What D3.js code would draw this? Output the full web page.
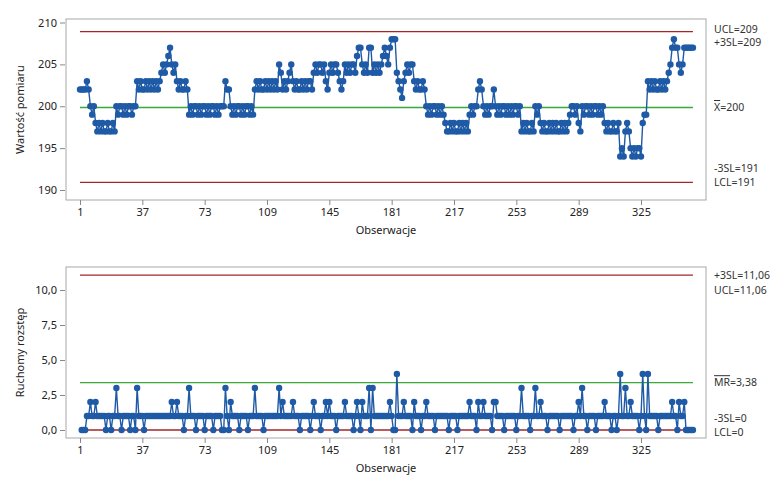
<!DOCTYPE html>
<html>
<head>
<meta charset="utf-8">
<script src="https://cdn.jsdelivr.net/npm/d3@7"></script>
<style>
  body { margin: 0; background: #fff; }
  text { font-family: "Noto Sans", "DejaVu Sans", sans-serif; }
</style>
</head>
<body>
<div id="chart"></div>
<script>
// Individual measurements (obs 1..355)
var values = [
  202,202,202,202,203,202,200,199,200,198,
  197,198,197,198,197,197,198,197,197,198,
  197,200,199,200,200,199,200,199,200,200,
  199,200,200,203,202,203,202,202,203,202,
  203,202,203,202,203,202,203,204,205,204,
  205,206,207,205,204,205,203,202,203,202,
  202,203,202,199,200,199,200,200,199,200,
  199,200,200,199,200,199,200,200,199,200,
  199,200,200,200,203,202,202,200,199,200,
  199,200,200,199,200,199,200,200,199,200,
  199,202,203,202,203,202,202,203,202,203,
  202,203,202,203,202,205,204,202,203,202,
  203,204,205,203,202,203,202,202,203,202,
  203,202,203,203,202,204,205,204,205,205,
  204,205,203,202,204,205,204,205,205,204,
  203,202,203,205,204,205,204,205,205,204,
  206,207,207,205,204,205,204,207,207,204,
  205,204,205,204,205,206,207,206,205,207,
  208,208,208,204,203,202,201,203,204,205,
  204,205,205,203,202,203,202,202,203,202,
  200,199,200,199,200,200,199,200,199,200,
  199,198,197,197,198,197,198,197,197,198,
  197,198,197,198,197,199,200,199,200,200,
  202,203,202,200,199,200,199,200,200,202,
  200,199,200,199,200,200,199,200,199,200,
  199,200,200,199,200,197,198,197,198,197,
  197,198,197,200,199,200,198,197,198,197,
  197,198,197,198,197,198,197,197,198,197,
  198,197,198,199,200,200,199,200,198,197,
  200,199,200,200,199,200,199,200,200,199,
  200,199,200,198,197,198,197,197,198,197,
  197,198,194,195,194,197,198,197,195,194,
  195,194,195,195,194,198,199,199,203,202,
  203,202,203,202,202,203,202,203,202,203,
  204,205,207,208,207,207,205,204,205,207,
  207,207,207,207,207
];

var xTicks = [1, 37, 73, 109, 145, 181, 217, 253, 289, 325];
var iTicks = [190, 195, 200, 205, 210];
var mrTicks = [0, 2.5, 5, 7.5, 10];

// control limits
var iLimits = { ucl: 208.9, center: 199.85, lcl: 190.9 };
var mrLimits = { ucl: 11.06, center: 3.38, lcl: 0 };

// moving range of consecutive observations
var mr = values.map(function(v, i) {
  return i === 0 ? null : Math.abs(v - values[i - 1]);
});

var svgWidth = 784;
var svgHeight = 480;
var frameLeft = 66;
var frameRight = 706;

var blue = "#1f5aa6";
var red = "#a3262a";
var green = "#3aa83a";

var svg = d3.select("#chart")
  .append("svg")
  .attr("width", svgWidth)
  .attr("height", svgHeight);

var xScale = d3.scaleLinear()
  .domain([1, 325])
  .range([80, 641]);

function drawPanel(opts) {
  var g = svg.append("g");
  var y = opts.y;

  // limit lines from first to last observation
  var x0 = xScale(1), x1 = xScale(values.length);
  [[opts.limits.ucl, red], [opts.limits.center, green], [opts.limits.lcl, red]].forEach(function(l) {
    g.append("line")
      .attr("x1", x0).attr("x2", x1)
      .attr("y1", y(l[0])).attr("y2", y(l[0]))
      .attr("stroke", l[1])
      .attr("stroke-width", 1.3);
  });

  var pts = opts.data.map(function(v, i) { return { i: i + 1, v: v }; })
    .filter(function(d) { return d.v !== null; });

  var line = d3.line()
    .x(function(d) { return xScale(d.i); })
    .y(function(d) { return y(d.v); });

  g.append("path")
    .datum(pts)
    .attr("d", line)
    .attr("fill", "none")
    .attr("stroke", blue)
    .attr("stroke-width", 1.4);

  g.selectAll("circle")
    .data(pts)
    .enter()
    .append("circle")
    .attr("cx", function(d) { return xScale(d.i); })
    .attr("cy", function(d) { return y(d.v); })
    .attr("r", 3.2)
    .attr("fill", blue);

  // frame
  g.append("rect")
    .attr("x", frameLeft)
    .attr("y", opts.top)
    .attr("width", frameRight - frameLeft)
    .attr("height", opts.bottom - opts.top)
    .attr("fill", "none")
    .attr("stroke", "#a8a8a8")
    .attr("stroke-width", 1);

  var leftAxis = d3.axisLeft(y)
    .tickValues(opts.ticks)
    .tickSize(5)
    .tickPadding(3)
    .tickFormat(opts.fmt);

  var ya = g.append("g")
    .attr("transform", "translate(" + (frameLeft - 1) + ",0)")
    .call(leftAxis);

  var bottomAxis = d3.axisBottom(xScale)
    .tickValues(xTicks)
    .tickSize(5)
    .tickPadding(3)
    .tickFormat(d3.format("d"));

  var xa = g.append("g")
    .attr("transform", "translate(0," + opts.bottom + ")")
    .call(bottomAxis);

  [ya, xa].forEach(function(a) {
    a.select(".domain").remove();
    a.selectAll(".tick line").attr("stroke", "#888");
    a.selectAll(".tick text")
      .attr("fill", "#222")
      .style("font-size", "11px")
      .style("font-family", "Noto Sans, DejaVu Sans, sans-serif");
  });

  g.append("text")
    .attr("x", (frameLeft + frameRight) / 2)
    .attr("y", opts.bottom + 34)
    .attr("text-anchor", "middle")
    .attr("fill", "#222")
    .style("font-size", "11px")
    .text("Obserwacje");

  g.append("text")
    .attr("transform", "translate(24," + ((opts.top + opts.bottom) / 2) + ") rotate(-90)")
    .attr("text-anchor", "middle")
    .attr("fill", "#222")
    .style("font-size", "11px")
    .text(opts.yLabel);

  // right side labels
  opts.labels.forEach(function(l) {
    var t = g.append("text")
      .attr("x", 714)
      .attr("y", l.y)
      .attr("dy", "0.35em")
      .attr("fill", "#333")
      .style("font-size", "10.5px")
      .text(l.text);
    if (l.bar) {
      var w = t.node().getSubStringLength(0, l.bar);
      g.append("line")
        .attr("x1", 714).attr("x2", 714 + w)
        .attr("y1", l.y - 7).attr("y2", l.y - 7)
        .attr("stroke", "#333")
        .attr("stroke-width", 1);
    }
  });
}

var yTop = d3.scaleLinear().domain([190, 210]).range([190, 22.5]);
var yBottom = d3.scaleLinear().domain([0, 10]).range([430, 290]);

drawPanel({
  data: values,
  y: yTop,
  top: 19,
  bottom: 200,
  ticks: iTicks,
  fmt: d3.format("d"),
  limits: iLimits,
  yLabel: "Wartość pomiaru",
  labels: [
    { y: yTop(iLimits.ucl) - 2, text: "UCL=209" },
    { y: yTop(iLimits.ucl) + 11, text: "+3SL=209" },
    { y: yTop(iLimits.center), text: "X=200", bar: 1 },
    { y: yTop(iLimits.lcl) - 14, text: "-3SL=191" },
    { y: yTop(iLimits.lcl) - 0.5, text: "LCL=191" }
  ]
});

drawPanel({
  data: mr,
  y: yBottom,
  top: 267,
  bottom: 438,
  ticks: mrTicks,
  fmt: function(d) { return d3.format(".1f")(d).replace(".", ","); },
  limits: mrLimits,
  yLabel: "Ruchomy rozstęp",
  labels: [
    { y: yBottom(mrLimits.ucl), text: "+3SL=11,06" },
    { y: yBottom(mrLimits.ucl) + 15, text: "UCL=11,06" },
    { y: yBottom(mrLimits.center), text: "MR=3,38", bar: 2 },
    { y: yBottom(mrLimits.lcl) - 12, text: "-3SL=0" },
    { y: yBottom(mrLimits.lcl) + 2, text: "LCL=0" }
  ]
});
</script>
</body>
</html>
